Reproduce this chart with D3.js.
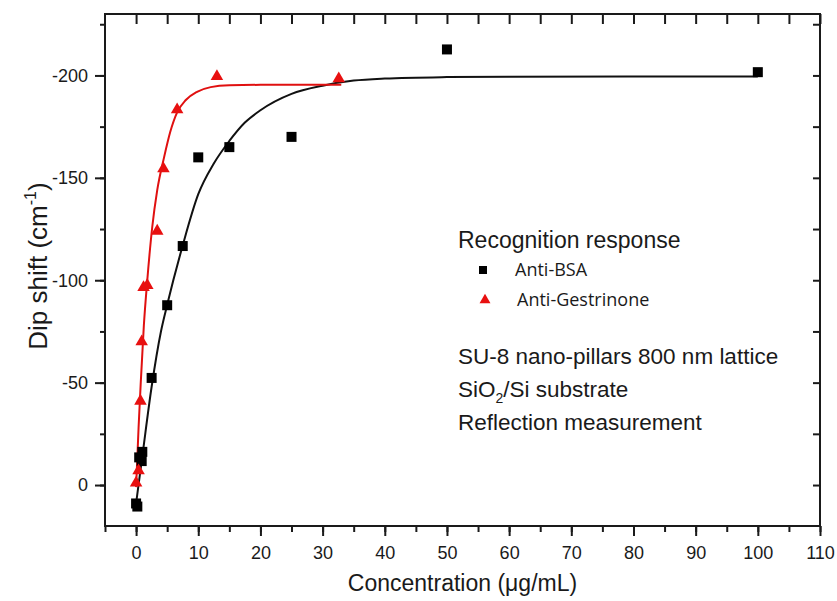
<html lang="en">
<head>
<meta http-equiv="Content-Type" content="text/html; charset=UTF-8">
<title>Dip shift</title>
<script type="text/javascript" src="https://cdn.jsdelivr.net/npm/d3@7/dist/d3.min.js"></script>
<style type="text/css">
body { margin: 0; background: #fff; }
text { font-family: "Liberation Sans", Arial, sans-serif; fill: #1a1a1a; }
</style>
</head>
<body>

<script type="text/javascript">

// measured points
var bsaX = [0, 0.2, 0.5, 0.9, 1.0, 2.5, 5, 7.5, 10, 15, 25, 50, 100];
var bsaY = [9, 10.5, -13.5, -11.7, -16.2, -52.3, -87.8, -116.7, -160, -165, -170, -212.7, -201.6];
var gesX = [0, 0.4, 0.7, 0.9, 1.2, 1.8, 3.4, 4.4, 6.6, 13, 32.6];
var gesY = [-1, -7, -41, -70, -96.5, -97.5, -124, -154.5, -183.3, -199.5, -198.4];

// fitted curves
var bsaFitX = [0, 1, 2.5, 4, 5, 7.5, 10, 12.5, 15, 17.5, 20, 25, 30, 35, 40, 50, 60, 80, 100];
var bsaFitY = [9, -14, -48, -75, -88, -117, -142, -157, -168, -177, -183, -191, -195, -197.5, -198.5, -199.2, -199.4, -199.5, -199.5];
var gesFitX = [0, 0.4, 0.75, 1.25, 1.8, 2.6, 3.4, 4.5, 5.5, 6.6, 8, 9.8, 12, 15, 20, 33];
var gesFitY = [1, -28, -50, -78, -100, -126, -144, -160, -172.5, -182, -188, -192, -194.3, -195.2, -195.4, -195.4];

var xTicks = [0, 10, 20, 30, 40, 50, 60, 70, 80, 90, 100, 110];
var yTicks = [0, -50, -100, -150, -200];

function zip(xs, ys) { return xs.map(function(x, i){ return {x: x, y: ys[i]}; }); }

var pLeft = 105, pRight = 820, pTop = 14, pBottom = 526;

var svg = d3.select("body").append("svg")
    .attr("width", 837)
    .attr("height", 601);

var x = d3.scaleLinear().domain([-5, 110]).range([pLeft, pRight]);
var y = d3.scaleLinear().domain([20, -230]).range([pBottom, pTop]);

var minorX = d3.range(-5, 111, 5);
var minorY = d3.range(-225, 20, 25);

// plain hyphen for negatives, like the original
var plain = function(d){ return String(d); };

function styleTicks(g) {
    g.select(".domain").remove();
    g.selectAll("line").attr("stroke-width", 2).attr("stroke", "#1a1a1a");
    g.selectAll("text").attr("font-size", 18).attr("font-family", "Liberation Sans, Arial, sans-serif").attr("fill", "#1a1a1a");
}

// bottom axis: minor + major
svg.append("g").attr("transform", "translate(0," + pBottom + ")")
    .call(d3.axisBottom(x).tickValues(minorX).tickSize(6).tickFormat(""))
    .call(styleTicks);
svg.append("g").attr("transform", "translate(0," + pBottom + ")")
    .call(d3.axisBottom(x).tickValues(xTicks).tickSize(10).tickPadding(10).tickFormat(plain))
    .call(styleTicks);

// top axis, inward ticks
svg.append("g").attr("transform", "translate(0," + pTop + ")")
    .call(d3.axisTop(x).tickValues(minorX.filter(function(v){ return v > -5; })).tickSize(-10).tickFormat(""))
    .call(styleTicks);

// left axis
svg.append("g").attr("transform", "translate(" + pLeft + ",0)")
    .call(d3.axisLeft(y).tickValues(minorY).tickSize(5).tickFormat(""))
    .call(styleTicks);
svg.append("g").attr("transform", "translate(" + pLeft + ",0)")
    .call(d3.axisLeft(y).tickValues(yTicks).tickSize(10).tickPadding(7).tickFormat(plain))
    .call(styleTicks);

// right axis, inward ticks
svg.append("g").attr("transform", "translate(" + pRight + ",0)")
    .call(d3.axisRight(y).tickValues(minorY).tickSize(-7).tickFormat(""))
    .call(styleTicks);

// frame
svg.append("rect")
    .attr("x", pLeft).attr("y", pTop)
    .attr("width", pRight - pLeft).attr("height", pBottom - pTop)
    .attr("fill", "none").attr("stroke", "#1a1a1a").attr("stroke-width", 2);

// axis titles
svg.append("text")
    .attr("x", (pLeft + pRight) / 2).attr("y", 591)
    .attr("text-anchor", "middle").attr("font-size", 23)
    .text("Concentration (\u03bcg/mL)");

var yt = svg.append("text")
    .attr("transform", "translate(47,266) rotate(-90)")
    .attr("text-anchor", "middle").attr("font-size", 26);
yt.append("tspan").text("Dip shift (cm");
yt.append("tspan").attr("font-size", 16).attr("dy", -11).text("-1");
yt.append("tspan").attr("dy", 11).text(")");

// fitted lines
var line = d3.line()
    .x(function(d){ return x(d.x); })
    .y(function(d){ return y(d.y); })
    .curve(d3.curveMonotoneX);

svg.append("path")
    .attr("d", line(zip(bsaFitX, bsaFitY)))
    .attr("fill", "none").attr("stroke", "#111").attr("stroke-width", 2);

svg.append("path")
    .attr("d", line(zip(gesFitX, gesFitY)))
    .attr("fill", "none").attr("stroke", "#e01010").attr("stroke-width", 2);

// points
svg.selectAll("rect.bsa")
    .data(zip(bsaX, bsaY)).enter().append("rect")
    .attr("class", "bsa")
    .attr("x", function(d){ return x(d.x) - 5; })
    .attr("y", function(d){ return y(d.y) - 5; })
    .attr("width", 10).attr("height", 10)
    .attr("fill", "#000");

var tri = d3.symbol().type(d3.symbolTriangle).size(68);
svg.selectAll("path.ges")
    .data(zip(gesX, gesY)).enter().append("path")
    .attr("class", "ges")
    .attr("d", tri)
    .attr("transform", function(d){ return "translate(" + x(d.x) + "," + y(d.y) + ")"; })
    .attr("fill", "#e81010");

// legend
svg.append("text").attr("x", 458).attr("y", 248).attr("font-size", 23).text("Recognition response");
svg.append("rect").attr("x", 479).attr("y", 266).attr("width", 8).attr("height", 8).attr("fill", "#000");
svg.append("text").attr("x", 515).attr("y", 276).attr("font-size", 18)
    .style("font-family", "'Open Sans', sans-serif").text("Anti-BSA");
svg.append("path").attr("d", d3.symbol().type(d3.symbolTriangle).size(52))
    .attr("transform", "translate(485,300)").attr("fill", "#e81010");
svg.append("text").attr("x", 517).attr("y", 306).attr("font-size", 18)
    .style("font-family", "'Open Sans', sans-serif").text("Anti-Gestrinone");

// notes
svg.append("text").attr("x", 458).attr("y", 364).attr("font-size", 22.5).text("SU-8 nano-pillars 800 nm lattice");
var s2 = svg.append("text").attr("x", 458).attr("y", 397).attr("font-size", 22.5);
s2.append("tspan").text("SiO");
s2.append("tspan").attr("font-size", 14).attr("dy", 6).text("2");
s2.append("tspan").attr("dy", -6).text("/Si substrate");
svg.append("text").attr("x", 458).attr("y", 430).attr("font-size", 22.5).text("Reflection measurement");

</script>

</body>
</html>
